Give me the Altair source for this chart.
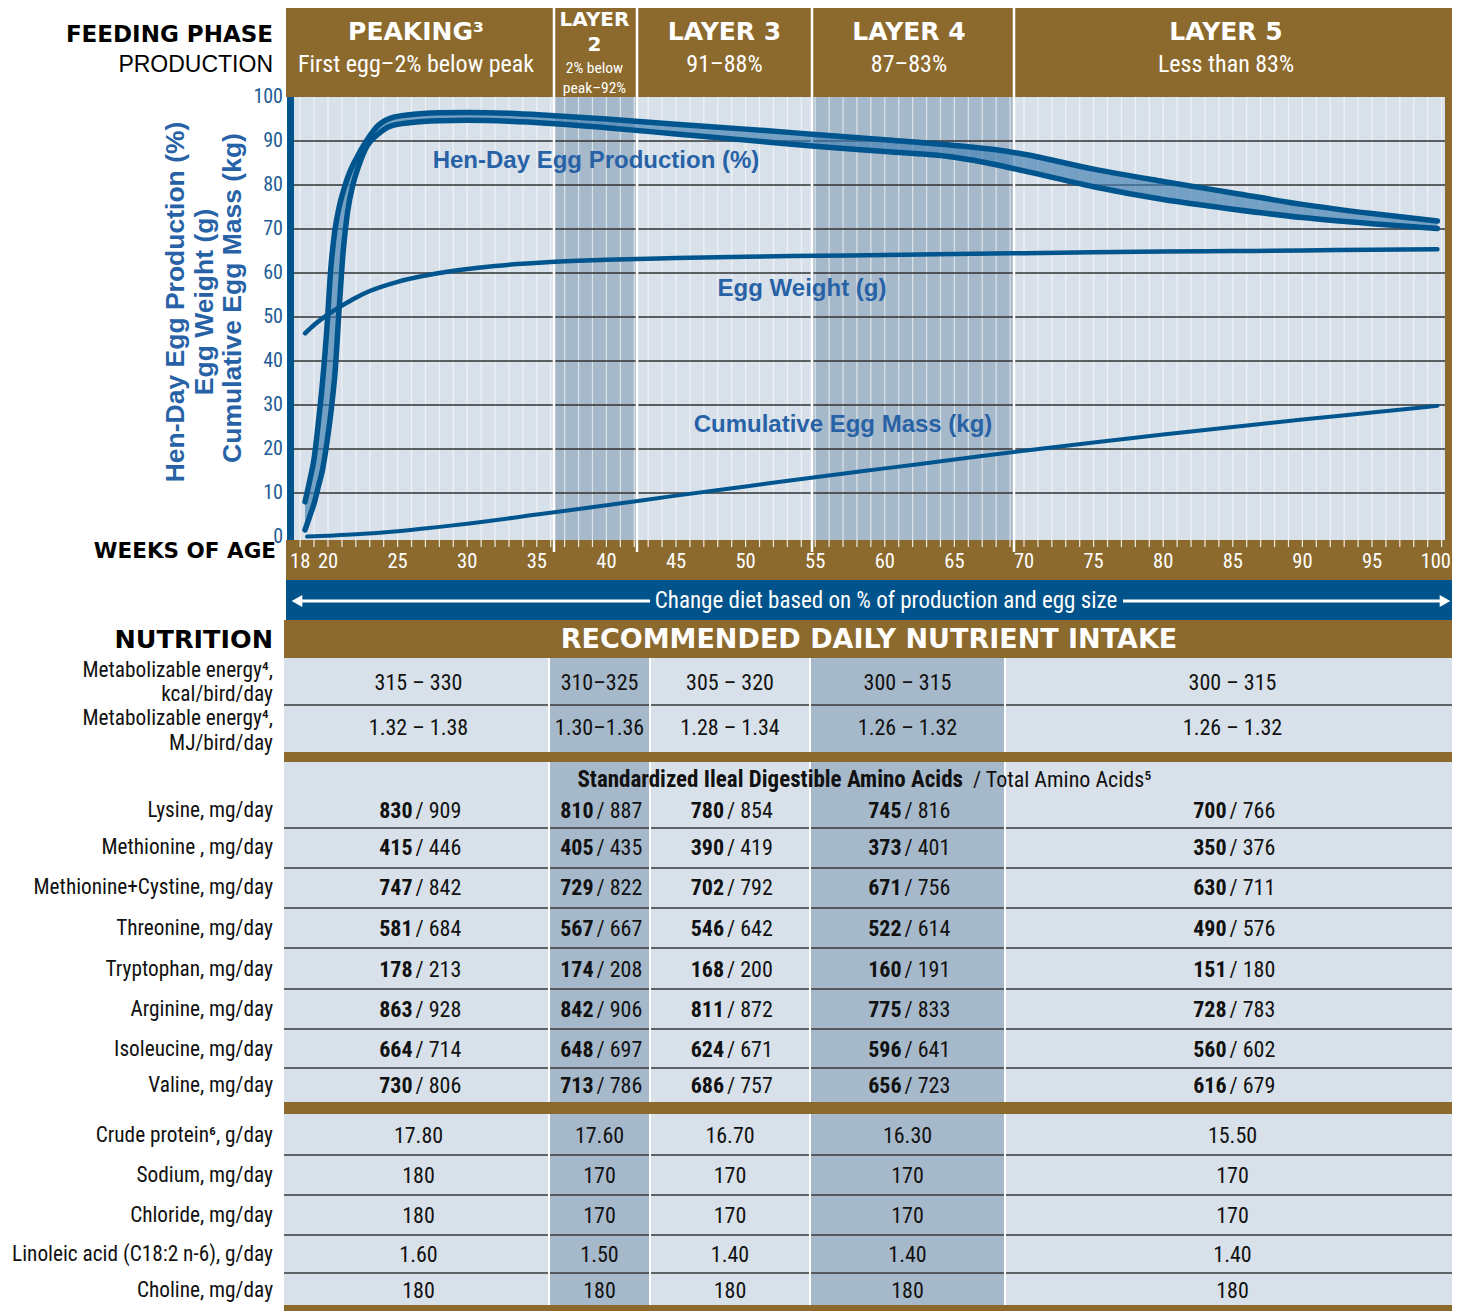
import altair as alt
import pandas as pd

# ---------------- data ----------------
X_TICKS = [18, 20, 25, 30, 35, 40, 45, 50, 55, 60, 65, 70, 75, 80, 85, 90, 95, 100]
Y_TICKS = [0, 10, 20, 30, 40, 50, 60, 70, 80, 90, 100]
GRID_WEEKS = list(range(18, 101))
H_GRID = [10, 20, 30, 40, 50, 60, 70, 80, 90]

HD_WEEKS = [18.35, 18.7, 19.0, 19.3, 19.6, 19.9, 20.2, 20.5, 20.8, 21.1,
            21.4, 21.8, 22.2, 22.8, 23.5, 24.5, 26, 28, 30, 33,
            36, 40, 45, 50, 55, 60, 65, 68, 70, 75,
            80, 85, 90, 95, 99.7]
HD_UPPER = [8.0, 13.0, 17.8, 25.8, 35.0, 46.5, 61.0, 69.8, 75.0, 78.6,
            81.6, 84.6, 87.0, 90.2, 93.2, 95.2, 96.0, 96.4, 96.5, 96.3,
            95.8, 95.0, 93.8, 92.7, 91.5, 90.3, 89.0, 88.0, 87.0, 83.6,
            80.8, 78.2, 75.6, 73.5, 71.8]
HD_LOWER = [1.6, 4.8, 7.6, 11.4, 15.2, 21.0, 28.1, 37.2, 51.8, 65.3,
            73.8, 80.2, 84.3, 88.8, 91.3, 93.4, 94.2, 94.6, 94.7, 94.5,
            94.0, 93.0, 91.6, 90.2, 88.8, 87.6, 86.3, 84.6, 83.2, 79.6,
            76.7, 74.5, 72.6, 71.2, 70.1]

EW_WEEKS = [18.35, 19, 20, 21, 22, 23, 25, 28, 32, 36, 40, 45, 50, 55, 60, 65,
            70, 75, 80, 85, 90, 95, 99.7]
EGG_WEIGHT = [46.3, 48.2, 50.6, 52.6, 54.4, 55.9, 58.0, 60.0, 61.6, 62.5, 63.0,
              63.4, 63.7, 63.9, 64.1, 64.3, 64.5, 64.7, 64.9, 65.0, 65.1, 65.3, 65.4]

CM_WEEKS = [18.5, 20, 22, 25, 28, 30, 35, 40, 45, 50, 55, 60, 65, 70, 75, 80,
            85, 90, 95, 99.7]
CUM_MASS = [0.1, 0.3, 0.6, 1.3, 2.3, 3.0, 5.1, 7.2, 9.4, 11.5, 13.6, 15.6,
            17.6, 19.6, 21.5, 23.3, 25.0, 26.7, 28.3, 29.8]

PHASE_TITLES = ["PEAKING³", "LAYER 3", "LAYER 4", "LAYER 5"]
PHASE_RANGES = ["First egg–2% below peak", "91–88%", "87–83%", "Less than 83%"]
LAYER2_TITLE = ["LAYER", "2"]
LAYER2_RANGE = ["2% below", "peak–92%"]

ME_KCAL = ["315 – 330", "310–325", "305 – 320", "300 – 315", "300 – 315"]
ME_MJ = ["1.32 – 1.38", "1.30–1.36", "1.28 – 1.34", "1.26 – 1.32", "1.26 – 1.32"]

AMINO_LABELS = ["Lysine, mg/day", "Methionine , mg/day", "Methionine+Cystine, mg/day",
                "Threonine, mg/day", "Tryptophan, mg/day", "Arginine, mg/day",
                "Isoleucine, mg/day", "Valine, mg/day"]
SID = [[830, 810, 780, 745, 700],
       [415, 405, 390, 373, 350],
       [747, 729, 702, 671, 630],
       [581, 567, 546, 522, 490],
       [178, 174, 168, 160, 151],
       [863, 842, 811, 775, 728],
       [664, 648, 624, 596, 560],
       [730, 713, 686, 656, 616]]
TOTAL = [[909, 887, 854, 816, 766],
         [446, 435, 419, 401, 376],
         [842, 822, 792, 756, 711],
         [684, 667, 642, 614, 576],
         [213, 208, 200, 191, 180],
         [928, 906, 872, 833, 783],
         [714, 697, 671, 641, 602],
         [806, 786, 757, 723, 679]]

OTHER_LABELS = ["Crude protein⁶, g/day", "Sodium, mg/day", "Chloride, mg/day",
                "Linoleic acid (C18:2 n-6), g/day", "Choline, mg/day"]
OTHER_VALUES = [["17.80", "17.60", "16.70", "16.30", "15.50"],
                ["180", "170", "170", "170", "170"],
                ["180", "170", "170", "170", "170"],
                ["1.60", "1.50", "1.40", "1.40", "1.40"],
                ["180", "180", "180", "180", "180"]]

# ---------------- layout helpers (page pixels -> scale units) ----------------
def X(px):
    return 20 + (px - 328) / 13.92


def Y(py):
    return (537 - py) / 4.4


W, H = 1448, 1303
XS = alt.Scale(domain=[X(8), X(8 + W)], nice=False, zero=False)
YS = alt.Scale(domain=[Y(8 + H), Y(8)], nice=False, zero=False)

BROWN = "#8C6A2D"
DBLUE = "#00548B"
LIGHT = "#D8E1E9"
SHADE = "#A6B9CA"
LINE = "#00558E"
LBLUE = "#2862A6"
NARROW = "Liberation Sans Narrow, Roboto Condensed, Arial Narrow, sans-serif"
BOLD = "Liberation Sans, Arial, Helvetica, sans-serif"
HEAVY = "DejaVu Sans, Verdana, sans-serif"


def xq(f="x"):
    return alt.X(f + ":Q", scale=XS, axis=None)


def yq(f="y"):
    return alt.Y(f + ":Q", scale=YS, axis=None)


def rects(rows):
    df = pd.DataFrame(rows, columns=["x", "x2", "y", "y2", "c"])
    return alt.Chart(df).mark_rect().encode(
        x=xq(), x2="x2:Q", y=yq(), y2="y2:Q", color=alt.Color("c:N", scale=None))


def rules(rows):
    df = pd.DataFrame(rows, columns=["x", "x2", "y", "y2", "c", "w", "o"])
    return alt.Chart(df).mark_rule().encode(
        x=xq(), x2="x2:Q", y=yq(), y2="y2:Q",
        color=alt.Color("c:N", scale=None),
        size=alt.Size("w:Q", scale=None),
        opacity=alt.Opacity("o:Q", scale=None))


def texts(rows, **kw):
    df = pd.DataFrame(rows, columns=["x", "y", "t"])
    base = dict(baseline="middle")
    base.update(kw)
    return alt.Chart(df).mark_text(**base).encode(x=xq(), y=yq(), text="t:N")


layers = []

# ---------------- backgrounds ----------------
HEADER_EDGES = [286, 554, 637, 812, 1014, 1452]
TABLE_EDGES = [284, 549, 650, 810, 1005, 1452]
T_TOP, T_BOT = 658, 1305

bg = [
    (X(286), X(1452), Y(8), Y(97), BROWN),
    (X(290), X(1445), Y(97), Y(540), LIGHT),
    (X(554), X(637), Y(97), Y(540), SHADE),
    (X(812), X(1014), Y(97), Y(540), SHADE),
    (X(1445), X(1452), Y(97), Y(540), BROWN),
    (X(286), X(1452), Y(540), Y(580), BROWN),
    (X(286), X(1452), Y(580), Y(620), DBLUE),
    (X(284), X(1452), Y(620), Y(658), BROWN),
]
for i in range(5):
    bg.append((X(TABLE_EDGES[i]), X(TABLE_EDGES[i + 1]), Y(T_TOP), Y(T_BOT),
               SHADE if i in (1, 3) else LIGHT))
for a, b in [(752, 762), (1102, 1114), (1305, 1311)]:
    bg.append((X(284), X(1452), Y(a), Y(b), BROWN))
layers.append(rects(bg))

# ---------------- grid / rules ----------------
rl = []
for w in GRID_WEEKS:
    rl.append((w, w, Y(97), Y(540), "#FFFFFF", 1.2, 0.6))
    rl.append((w, w, Y(540), Y(547), "#FFFFFF", 1.2, 0.85))
for v in H_GRID:
    rl.append((X(290), X(1445), v, v, "#333333", 1.3, 1))
for e in HEADER_EDGES[1:-1]:
    rl.append((X(e), X(e), Y(8), Y(552), "#FFFFFF", 2.5, 1))
for yy in [705, 828, 868, 908, 948, 989, 1029, 1068, 1155, 1195, 1235, 1273]:
    rl.append((X(284), X(1452), Y(yy), Y(yy), "#3A3A3A", 1.3, 1))
for e in TABLE_EDGES[1:-1]:
    for a, b in [(658, 752), (762, 1102), (1114, 1305)]:
        rl.append((X(e), X(e), Y(a), Y(b), "#FFFFFF", 2, 1))
# arrow shafts
rl.append((X(300), X(650), Y(601), Y(601), "#FFFFFF", 3, 1))
rl.append((X(1123), X(1440), Y(601), Y(601), "#FFFFFF", 3, 1))
layers.append(rules(rl))

arrows = pd.DataFrame({"x": [X(297), X(1445)], "y": [Y(601), Y(601)],
                       "s": ["triangle-left", "triangle-right"]})
layers.append(alt.Chart(arrows).mark_point(filled=True, color="white", opacity=1, size=150).encode(
    x=xq(), y=yq(), shape=alt.Shape("s:N", scale=None)))

# ---------------- curves ----------------
hd = pd.DataFrame({"w": HD_WEEKS, "hi": HD_UPPER, "lo": HD_LOWER})
layers.append(alt.Chart(hd).mark_area(color="#3F7DB0", opacity=0.65, interpolate="monotone").encode(
    x=xq("w"), y=yq("lo"), y2="hi:Q"))
hd_long = pd.concat([
    pd.DataFrame({"w": HD_WEEKS, "v": HD_UPPER, "s": "upper"}),
    pd.DataFrame({"w": HD_WEEKS, "v": HD_LOWER, "s": "lower"}),
])
layers.append(alt.Chart(hd_long).mark_line(color=LINE, strokeWidth=5.5, strokeCap="round",
                                            interpolate="monotone").encode(
    x=xq("w"), y=yq("v"), detail="s:N"))
ew = pd.DataFrame({"w": EW_WEEKS, "v": EGG_WEIGHT})
layers.append(alt.Chart(ew).mark_line(color=LINE, strokeWidth=4.5, strokeCap="round",
                                       interpolate="monotone").encode(x=xq("w"), y=yq("v")))
cm = pd.DataFrame({"w": CM_WEEKS, "v": CUM_MASS})
layers.append(alt.Chart(cm).mark_line(color=LINE, strokeWidth=4, strokeCap="round",
                                       interpolate="monotone").encode(x=xq("w"), y=yq("v")))

# left axis bar
layers.append(rects([(X(287), X(294), Y(97), Y(540), DBLUE)]))

# ---------------- texts ----------------
hc = [(HEADER_EDGES[i] + HEADER_EDGES[i + 1]) / 2 for i in range(5)]
title_cx = [hc[0] - 4, hc[2], hc[3] - 4, hc[4] - 7]
layers.append(texts([(X(cx), Y(32), t) for cx, t in zip(title_cx, PHASE_TITLES)],
                    font=HEAVY, fontWeight="bold", fontSize=25, color="white"))
layers.append(texts([(X(cx), Y(65), t) for cx, t in zip(title_cx, PHASE_RANGES)],
                    font=NARROW, fontSize=24, color="white"))
layers.append(texts([(X(hc[1] - 1), Y(20), LAYER2_TITLE[0]), (X(hc[1] - 1), Y(45), LAYER2_TITLE[1])],
                    font=HEAVY, fontWeight="bold", fontSize=20, color="white"))
layers.append(texts([(X(hc[1] - 1), Y(68), LAYER2_RANGE[0]), (X(hc[1] - 1), Y(88), LAYER2_RANGE[1])],
                    font=NARROW, fontSize=15.5, color="white"))

# left headings
layers.append(texts([(X(273), Y(35), "FEEDING PHASE")],
                    font=HEAVY, fontWeight="bold", fontSize=23, color="black", align="right"))
layers.append(texts([(X(276), Y(552), "WEEKS OF AGE")],
                    font=HEAVY, fontWeight="bold", fontSize=21.5, color="black", align="right"))
layers.append(texts([(X(273), Y(640), "NUTRITION")],
                    font=HEAVY, fontWeight="bold", fontSize=25.5, color="black", align="right"))
layers.append(texts([(X(273), Y(65), "PRODUCTION")],
                    font=BOLD, fontSize=23, color="black", align="right"))

# y tick labels
layers.append(texts([(X(283), v, str(v)) for v in Y_TICKS],
                    font=NARROW, fontSize=20, color="#1D5C95", align="right"))
# x tick labels
layers.append(texts([(w, Y(562), str(w)) for w in X_TICKS[:-1]],
                    font=NARROW, fontSize=20.5, color="white"))
layers.append(texts([(X(1451), Y(562), str(X_TICKS[-1]))],
                    font=NARROW, fontSize=20.5, color="white", align="right"))

# y-axis titles (rotated)
layers.append(texts([(X(176), Y(302), "Hen-Day Egg Production (%)"),
                     (X(205), Y(302), "Egg Weight (g)"),
                     (X(233), Y(298), "Cumulative Egg Mass (kg)")],
                    font=BOLD, fontWeight="bold", fontSize=26.5, color=LBLUE, angle=270))

# in-plot curve labels
layers.append(texts([(X(596), Y(161), "Hen-Day Egg Production (%)"),
                     (X(802), Y(289), "Egg Weight (g)"),
                     (X(843), Y(425), "Cumulative Egg Mass (kg)")],
                    font=BOLD, fontWeight="bold", fontSize=24, color=LBLUE))

# arrow band text
layers.append(texts([(X(886), Y(601), "Change diet based on  % of production and egg size")],
                    font=NARROW, fontSize=23, color="white"))
# recommended band
layers.append(texts([(X(869), Y(640), "RECOMMENDED DAILY NUTRIENT INTAKE")],
                    font=HEAVY, fontWeight="bold", fontSize=27, color="white"))

# ---------------- table ----------------
tc = [(TABLE_EDGES[i] + TABLE_EDGES[i + 1]) / 2 for i in range(5)]
tc[0] += 2
tc[4] += 4
LABEL_X = X(273)

label_rows = [
    (LABEL_X, Y(671), "Metabolizable energy⁴,"), (LABEL_X, Y(695), "kcal/bird/day"),
    (LABEL_X, Y(719), "Metabolizable energy⁴,"), (LABEL_X, Y(744), "MJ/bird/day"),
]
AMINO_Y = [811, 848, 888, 929, 970, 1010, 1050, 1086]
OTHER_Y = [1136, 1176, 1216, 1255, 1291]
label_rows += [(LABEL_X, Y(yy), t) for yy, t in zip(AMINO_Y, AMINO_LABELS)]
label_rows += [(LABEL_X, Y(yy), t) for yy, t in zip(OTHER_Y, OTHER_LABELS)]
layers.append(texts(label_rows, font=NARROW, fontSize=21.3, color="#111111", align="right"))

val_rows = []
for i in range(5):
    val_rows.append((X(tc[i]), Y(683), ME_KCAL[i]))
    val_rows.append((X(tc[i]), Y(728), ME_MJ[i]))
    for r, yy in enumerate(OTHER_Y):
        val_rows.append((X(tc[i]), Y(yy), OTHER_VALUES[r][i]))
layers.append(texts(val_rows, font=NARROW, fontSize=22, color="#111111"))

bold_rows, norm_rows = [], []
for r, yy in enumerate(AMINO_Y):
    for i in range(5):
        bold_rows.append((X(tc[i] - 6), Y(yy), str(SID[r][i])))
        norm_rows.append((X(tc[i] - 3), Y(yy), "/ " + str(TOTAL[r][i])))
layers.append(texts(bold_rows, font=NARROW, fontWeight="bold", fontSize=22, color="#111111", align="right"))
layers.append(texts(norm_rows, font=NARROW, fontSize=22, color="#111111", align="left"))

layers.append(texts([(X(963), Y(780), "Standardized Ileal Digestible Amino Acids")],
                    font=NARROW, fontWeight="bold", fontSize=23, color="#111111", align="right"))
layers.append(texts([(X(973), Y(780), "/ Total Amino Acids⁵")],
                    font=NARROW, fontSize=22, color="#111111", align="left"))

chart = alt.layer(*layers).properties(
    width=W, height=H, padding=0,
    autosize=alt.AutoSizeParams(type="none"),
).configure_view(strokeWidth=0)

chart.save("out.html", embed_options={"renderer": "svg", "actions": False})
